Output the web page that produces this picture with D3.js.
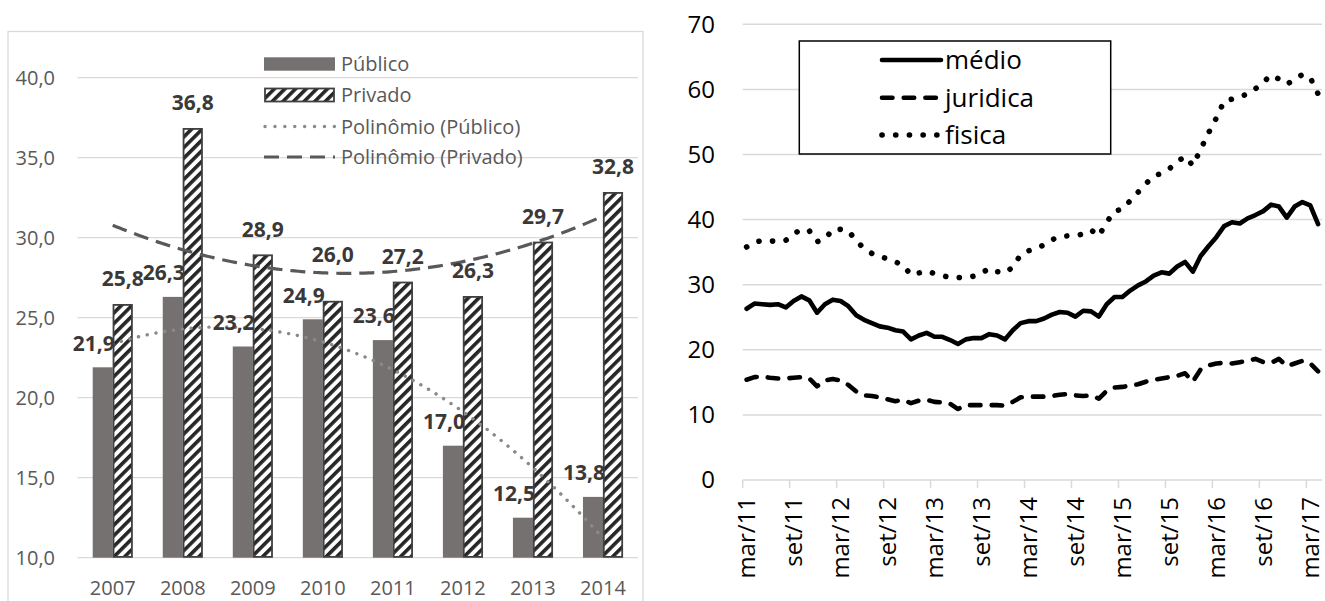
<!DOCTYPE html>
<html><head><meta charset="utf-8">
<script src="https://cdn.jsdelivr.net/npm/d3@7/dist/d3.min.js"></script>
<style>body{margin:0;background:#fff} svg{display:block}</style>
</head><body>
<svg id="c" width="1325" height="601"></svg>
<script>
// ---------- LEFT CHART DATA ----------
const years = ["2007","2008","2009","2010","2011","2012","2013","2014"];
const publico = [21.9, 26.3, 23.2, 24.9, 23.6, 17.0, 12.5, 13.8];
const privado = [25.8, 36.8, 28.9, 26.0, 27.2, 26.3, 29.7, 32.8];
const leftTicks = [10, 15, 20, 25, 30, 35, 40];
const leftLegend = ["Público", "Privado", "Polinômio (Público)", "Polinômio (Privado)"];

// ---------- RIGHT CHART DATA ----------
const monthNames = ["jan","fev","mar","abr","mai","jun","jul","ago","set","out","nov","dez"];
const startMonthIndex = 2;   // mar
const startYear = 11;        // 2011
const medio = [26.3,27.1,27.0,26.9,27.0,26.5,27.5,28.2,27.6,25.7,27.0,27.7,27.5,26.7,25.3,24.6,
  24.1,23.6,23.4,23.0,22.8,21.6,22.2,22.6,22.0,22.0,21.5,20.9,21.6,21.8,21.8,22.4,22.2,21.6,
  23.0,24.1,24.4,24.4,24.8,25.4,25.8,25.7,25.1,26.0,25.9,25.1,27.0,28.1,28.1,29.1,29.9,30.5,
  31.4,31.9,31.7,32.8,33.5,32.0,34.4,35.9,37.3,39.0,39.6,39.4,40.2,40.7,41.3,42.3,42.0,40.3,
  42.0,42.7,42.2,39.3];
const juridica = [15.4,15.8,15.9,15.7,15.6,15.6,15.7,15.8,15.6,14.4,15.3,15.5,15.3,14.6,13.6,13.0,
  12.9,12.7,12.4,12.1,12.3,11.8,12.2,12.3,12.0,11.9,11.7,10.9,11.5,11.5,11.5,11.5,11.5,11.4,
  12.0,12.7,12.8,12.8,12.8,12.9,13.1,13.2,13.0,12.9,13.0,12.5,13.7,14.2,14.3,14.5,14.7,15.1,
  15.4,15.6,15.8,16.0,16.4,15.1,17.0,17.6,17.9,18.0,17.9,18.1,18.3,18.6,18.1,18.0,18.6,17.5,
  17.9,18.3,17.9,16.7];
const fisica = [35.8,36.5,36.8,36.7,36.7,36.8,37.8,38.5,38.3,36.6,37.0,38.5,38.5,38.3,36.7,35.6,
  34.8,34.3,34.0,33.5,33.0,31.5,31.8,32.1,31.7,31.4,31.1,31.1,31.1,31.3,31.8,32.5,32.0,31.8,
  32.7,34.6,35.2,35.6,36.1,36.9,37.4,37.5,37.5,37.8,38.4,37.5,39.6,41.3,41.6,42.9,44.2,45.5,
  46.7,47.1,47.8,48.9,49.7,48.3,50.8,53.3,55.6,58.2,58.5,58.9,59.3,60.1,61.1,62.2,61.6,60.8,
  61.5,62.3,61.8,59.3];
const rightTicks = [0, 10, 20, 30, 40, 50, 60, 70];
const rightLegend = ["médio", "juridica", "fisica"];

// ---------- SETUP ----------
const svg = d3.select("#c");
const FONT = "'Open Sans', 'Noto Sans', sans-serif";
const comma = v => d3.format(".1f")(v).replace(".", ",");

const defs = svg.append("defs");
const pat = defs.append("pattern").attr("id", "stripes")
  .attr("patternUnits", "userSpaceOnUse").attr("width", 7.5).attr("height", 7.5)
  .attr("patternTransform", "rotate(45)");
pat.append("rect").attr("width", 7.5).attr("height", 7.5).attr("fill", "#fff");
pat.append("rect").attr("x", 0).attr("width", 3.6).attr("height", 7.5).attr("fill", "#262626");

// ================= LEFT CHART =================
const L = svg.append("g");
L.append("rect").attr("x", 8).attr("y", 31.5).attr("width", 635).attr("height", 600)
  .attr("fill", "none").attr("stroke", "#d9d9d9").attr("stroke-width", 1.3);

const xL = d3.scaleBand().domain(years).range([77.7, 638]).paddingInner(0).paddingOuter(0);
const yL = d3.scaleLinear().domain([10, 40]).range([557.7, 77.7]);
const barW = xL.bandwidth() * 20 / 70;
const cx = y => xL(y) + xL.bandwidth() / 2;

// gridlines
L.append("g").selectAll("line").data(leftTicks).join("line")
  .attr("x1", 77.7).attr("x2", 638).attr("y1", d => yL(d)).attr("y2", d => yL(d))
  .attr("stroke", "#d9d9d9").attr("stroke-width", 1.3);
// y labels
L.append("g").selectAll("text").data(leftTicks).join("text")
  .attr("x", 55).attr("y", d => yL(d)).attr("dy", "0.35em").attr("text-anchor", "end")
  .attr("font-family", FONT).attr("font-size", 20).attr("fill", "#595959")
  .text(d => comma(d));
// x labels
L.append("g").selectAll("text").data(years).join("text")
  .attr("x", d => cx(d)).attr("y", 594.5).attr("text-anchor", "middle")
  .attr("font-family", FONT).attr("font-size", 20).attr("fill", "#595959")
  .text(d => d);

// bars
L.append("g").selectAll("rect").data(years).join("rect")
  .attr("x", d => cx(d) - barW).attr("width", barW)
  .attr("y", (d, i) => yL(publico[i])).attr("height", (d, i) => yL(10) - yL(publico[i]))
  .attr("fill", "#767171");
L.append("g").selectAll("rect").data(years).join("rect")
  .attr("x", d => cx(d) + 0.8).attr("width", barW - 1.6)
  .attr("y", (d, i) => yL(privado[i])).attr("height", (d, i) => yL(10) - yL(privado[i]) - 0.8)
  .attr("fill", "url(#stripes)").attr("stroke", "#404040").attr("stroke-width", 1.8);

// quadratic trend (least squares)
function quadFit(vals) {
  const n = vals.length; let S = [0,0,0,0,0], T = [0,0,0];
  vals.forEach((v, i) => { const x = i + 1;
    for (let k = 0; k < 5; k++) S[k] += Math.pow(x, k);
    for (let k = 0; k < 3; k++) T[k] += v * Math.pow(x, k); });
  const A = [[S[0],S[1],S[2],T[0]],[S[1],S[2],S[3],T[1]],[S[2],S[3],S[4],T[2]]];
  for (let c = 0; c < 3; c++) { for (let r = c + 1; r < 3; r++) { const f = A[r][c] / A[c][c];
    for (let k = c; k < 4; k++) A[r][k] -= f * A[c][k]; } }
  const s = [0,0,0];
  for (let r = 2; r >= 0; r--) { let v = A[r][3]; for (let k = r + 1; k < 3; k++) v -= A[r][k] * s[k]; s[r] = v / A[r][r]; }
  return x => s[0] + s[1] * x + s[2] * x * x;
}
const step = xL.bandwidth();
const x0 = cx(years[0]);
const trendPts = f => d3.range(1, 8.001, 0.05).map(x => [x0 + (x - 1) * step, yL(f(x))]);
const line = d3.line();
const fPub = quadFit(publico), fPriv = quadFit(privado);
L.append("path").attr("d", line(trendPts(fPub))).attr("fill", "none")
  .attr("stroke", "#8a8a8a").attr("stroke-width", 3.4).attr("stroke-linecap", "round")
  .attr("stroke-dasharray", "0.1,8.8");
L.append("path").attr("d", line(trendPts(fPriv))).attr("fill", "none")
  .attr("stroke", "#595959").attr("stroke-width", 3.2)
  .attr("stroke-dasharray", "15,8");

// data labels
const lblPub = years.map((d, i) => ({ x: cx(d) - barW / 2 - 9, y: yL(publico[i]) - 24, t: comma(publico[i]) }));
const lblPriv = years.map((d, i) => {
  let y = yL(privado[i]) - 26; const p = lblPub[i]; const x = cx(d) + barW / 2;
  if (Math.abs(y - p.y) < 24 && Math.abs(x - p.x) < 46) y = p.y - 41;
  return { x, y, t: comma(privado[i]) };
});
L.append("g").selectAll("text").data(lblPub.concat(lblPriv)).join("text")
  .attr("x", d => d.x).attr("y", d => d.y).attr("dy", "0.35em").attr("text-anchor", "middle")
  .attr("font-family", FONT).attr("font-size", 21).attr("font-weight", "bold").attr("fill", "#3b3838")
  .text(d => d.t);

// legend
const lg = L.append("g");
const lgY = [64, 95, 126.5, 157];
lg.append("rect").attr("x", 264).attr("y", lgY[0] - 6.7).attr("width", 71).attr("height", 13.4).attr("fill", "#767171");
lg.append("rect").attr("x", 265).attr("y", lgY[1] - 6.5).attr("width", 69).attr("height", 13).attr("fill", "url(#stripes)")
  .attr("stroke", "#404040").attr("stroke-width", 1.8);
lg.append("line").attr("x1", 265).attr("x2", 335).attr("y1", lgY[2]).attr("y2", lgY[2])
  .attr("stroke", "#8a8a8a").attr("stroke-width", 3.4).attr("stroke-linecap", "round").attr("stroke-dasharray", "0.1,9.8");
lg.append("line").attr("x1", 264).attr("x2", 335).attr("y1", lgY[3]).attr("y2", lgY[3])
  .attr("stroke", "#595959").attr("stroke-width", 3.2).attr("stroke-dasharray", "15,8");
lg.selectAll("text").data(leftLegend).join("text")
  .attr("x", 341).attr("y", (d, i) => lgY[i]).attr("dy", "0.35em")
  .attr("font-family", FONT).attr("font-size", 20).attr("fill", "#595959").text(d => d);

// ================= RIGHT CHART =================
const R = svg.append("g");
const N = medio.length;
const cats = d3.range(N).map(i => {
  const m = startMonthIndex + i;
  return monthNames[m % 12] + "/" + (startYear + Math.floor(m / 12));
});
const xR = d3.scaleBand().domain(cats).range([742.7, 1322]).paddingInner(0).paddingOuter(0);
const yR = d3.scaleLinear().domain([0, 70]).range([480, 24.3]);
const cR = d => xR(d) + xR.bandwidth() / 2;

R.append("g").selectAll("line").data(rightTicks).join("line")
  .attr("x1", 742.7).attr("x2", 1322).attr("y1", d => yR(d)).attr("y2", d => yR(d))
  .attr("stroke", "#d9d9d9").attr("stroke-width", 1.5);
R.append("g").selectAll("text").data(rightTicks).join("text")
  .attr("x", 715).attr("y", d => yR(d)).attr("dy", "0.35em").attr("text-anchor", "end")
  .attr("font-family", FONT).attr("font-size", 24).attr("fill", "#000").text(d => d);

const shown = cats.filter((d, i) => i % 6 === 0);
R.append("g").selectAll("line").data(shown).join("line")
  .attr("x1", d => xR(d)).attr("x2", d => xR(d)).attr("y1", 480).attr("y2", 488)
  .attr("stroke", "#d9d9d9").attr("stroke-width", 1.5);
R.append("g").selectAll("text").data(shown).join("text")
  .attr("transform", d => `translate(${cR(d)},497) rotate(-90)`)
  .attr("text-anchor", "end").attr("dy", "0.35em")
  .attr("font-family", FONT).attr("font-size", 24).attr("fill", "#000").text(d => d);

const lineR = d3.line().x((d, i) => cR(cats[i])).y(d => yR(d));
R.append("path").attr("d", lineR(medio)).attr("fill", "none").attr("stroke", "#000")
  .attr("stroke-width", 4.6).attr("stroke-linejoin", "round").attr("stroke-linecap", "round");
R.append("path").attr("d", lineR(juridica)).attr("fill", "none").attr("stroke", "#000")
  .attr("stroke-width", 4.6).attr("stroke-linejoin", "round").attr("stroke-linecap", "round")
  .attr("stroke-dasharray", "10.5,11.2");
R.append("path").attr("d", lineR(fisica)).attr("fill", "none").attr("stroke", "#000")
  .attr("stroke-width", 5.6).attr("stroke-linecap", "round").attr("stroke-dasharray", "0.1,13.6");

// legend
const rl = R.append("g");
rl.append("rect").attr("x", 799.3).attr("y", 41).attr("width", 311.4).attr("height", 113)
  .attr("fill", "#fff").attr("stroke", "#000").attr("stroke-width", 1.5);
const rlY = [60, 97.7, 135];
const rlDash = [null, "10.5,11.2", "0.1,13.6"];
const rlW = [4.6, 4.6, 5.6];
rightLegend.forEach((t, i) => {
  const ln = rl.append("line").attr("x1", 882).attr("x2", 941).attr("y1", rlY[i]).attr("y2", rlY[i])
    .attr("stroke", "#000").attr("stroke-width", rlW[i]).attr("stroke-linecap", "round");
  if (rlDash[i]) ln.attr("stroke-dasharray", rlDash[i]);
  rl.append("text").attr("x", 945).attr("y", rlY[i]).attr("dy", "0.35em")
    .attr("font-family", FONT).attr("font-size", 26).attr("fill", "#000").text(t);
});
</script>
</body></html>
